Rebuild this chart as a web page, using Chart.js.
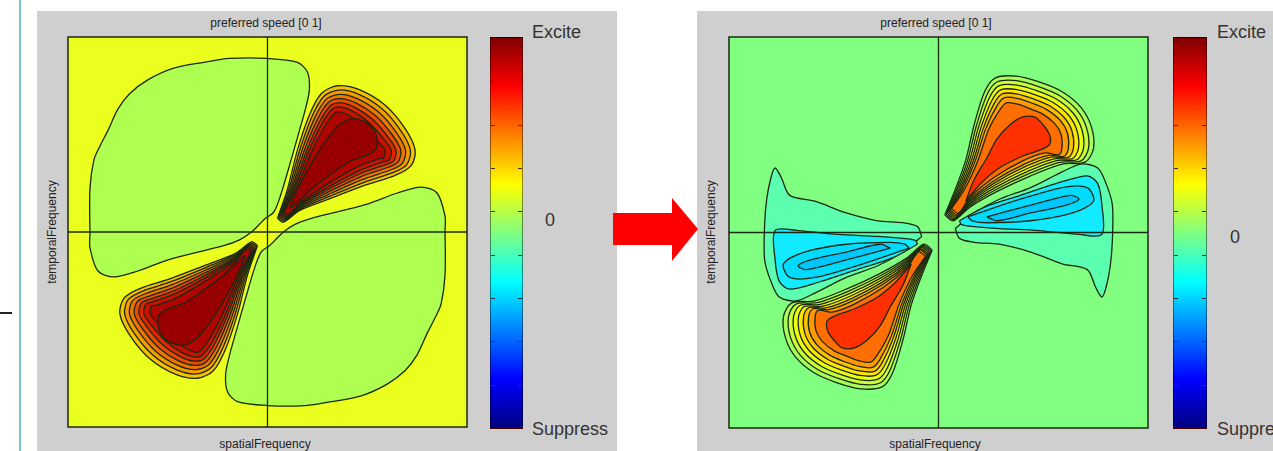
<!DOCTYPE html>
<html><head><meta charset="utf-8">
<script src="https://cdn.jsdelivr.net/npm/chart.js@4.4.1/dist/chart.umd.min.js"></script>
<style>
html,body{margin:0;padding:0;background:#fff;width:1273px;height:451px;overflow:hidden;position:relative;font-family:"Liberation Sans",Arial,sans-serif;}
.panel{position:absolute;background:#cfcfcf;top:11px;height:440px}
.small{position:absolute;font-size:12px;color:#222;white-space:nowrap;transform:translate(-50%,-50%)}
.rot{transform:translate(-50%,-50%) rotate(-90deg)}
.big{position:absolute;font-size:18px;color:#333;white-space:nowrap;transform:translateY(-50%)}
.cbar{position:absolute;top:37px;height:392px;box-sizing:border-box;border:1px solid rgba(0,0,0,.45);
 background:linear-gradient(to top,#000080 0%,#0000ff 12.5%,#0080ff 25%,#00ffff 37.5%,#80ff80 50%,#ffff00 62.5%,#ff8000 75%,#ff0000 87.5%,#800000 100%)}
.tick{position:absolute;height:1px;width:4px;background:#333}
canvas{position:absolute}
</style></head>
<body>
<div style="position:absolute;left:19px;top:0;width:2px;height:451px;background:#7cc4cc"></div>
<div style="position:absolute;left:0;top:312px;width:12px;height:1.5px;background:#222"></div>
<div class="panel" style="left:37px;width:580px"></div>
<div class="panel" style="left:697px;width:576px"></div>
<svg style="position:absolute;left:0;top:0" width="1273" height="451">
 <polygon points="613,213 672,213 672,198 698,229 672,261 672,245 613,245" fill="#ff0000"/>
</svg>
<canvas id="cL" width="409" height="400" style="left:63px;top:32px"></canvas>
<canvas id="cR" width="429" height="401" style="left:724px;top:32px"></canvas>
<div class="cbar" id="cb1" style="left:490px;width:33px"></div>
<div class="cbar" id="cb2" style="left:1173px;width:34px"></div>

<div class="small" style="left:266px;top:23px">preferred speed [0 1]</div>
<div class="small" style="left:936px;top:23px">preferred speed [0 1]</div>
<div class="small" style="left:265px;top:444px">spatialFrequency</div>
<div class="small" style="left:935px;top:444px">spatialFrequency</div>
<div class="small rot" style="left:52px;top:232px">temporalFrequency</div>
<div class="small rot" style="left:711px;top:232px">temporalFrequency</div>
<div class="big" style="left:532px;top:32px">Excite</div>
<div class="big" style="left:545px;top:220px">0</div>
<div class="big" style="left:532px;top:429px">Suppress</div>
<div class="big" style="left:1217px;top:32px">Excite</div>
<div class="big" style="left:1230px;top:237px">0</div>
<div class="big" style="left:1217px;top:429px">Suppress</div>

<script>
// ---------- LEFT PANEL ----------
const leftGreenUL = [[-89,-1],[-89,22],[-87,37],[-84,44],[-80,52],[-75,63],[-69,71],[-60,78],[-47,84],[-32,87],[-19,89],[0,89],[15,87],[20,82],[21,73],[19,63],[16,52],[11,34],[6,17],[3,10],[-1,7],[-4,4],[-8,0],[-14,-4],[-22,-7],[-49,-14],[-65,-20],[-77,-23],[-85,-20],[-89,-8]];
const leftGreenLR = [[89,1],[89,-22],[87,-37],[84,-44],[80,-52],[75,-63],[69,-71],[60,-78],[47,-84],[32,-87],[19,-89],[0,-89],[-15,-87],[-20,-82],[-21,-73],[-19,-63],[-16,-52],[-11,-34],[-6,-17],[-3,-10],[1,-7],[4,-4],[8,0],[14,4],[22,7],[49,14],[65,20],[77,23],[85,20],[89,8]];
const leftLobeA = [
 [[5,7],[10,22],[15,42],[21,60],[27,71],[35,75],[46,73],[59,65],[69,53],[74,42],[72,34],[64,29],[49,24],[31,17],[16,11],[8,5]],
 [[5.5,7.5],[10.7,22],[16.1,41.8],[22.3,59.2],[28.2,69.5],[35.5,72.8],[45.5,70.7],[57.4,63.2],[66.8,52],[71.6,42],[69.8,34.6],[62.8,30.4],[48.4,25.5],[30.7,18.1],[16,11.6],[8.4,5.6]],
 [[6,8],[11.4,22],[17.2,41.6],[23.6,58.4],[29.4,68],[36,70.6],[45,68.4],[55.8,61.4],[64.6,51],[69.2,42],[67.6,35.2],[61.6,31.8],[47.8,27],[30.4,19.2],[16,12.2],[8.8,6.2]],
 [[6.5,8.5],[12.1,22],[18.3,41.4],[24.9,57.6],[30.6,66.5],[36.5,68.4],[44.5,66.1],[54.2,59.6],[62.4,50],[66.8,42],[65.4,35.8],[60.4,33.2],[47.2,28.5],[30.1,20.3],[16,12.8],[9.2,6.8]],
 [[7,9],[12.8,22],[19.4,41.2],[26.2,56.8],[31.8,65],[37,66.2],[44,63.8],[52.6,57.8],[60.2,49],[64.4,42],[63.2,36.4],[59.2,34.6],[46.6,30],[29.8,21.4],[16,13.4],[9.6,7.4]],
 [[7.5,9.5],[13.5,22],[20.5,41],[27.5,56],[33,63.5],[37.5,64],[43.5,61.5],[51,56],[58,48],[62,42],[61,37],[58,36],[46,31.5],[29.5,22.5],[16,14],[10,8]],
 [[8.2,10.2],[14.4,22],[21.9,40.7],[29.2,55],[34.6,61.6],[38.2,61.1],[42.9,58.5],[48.9,53.7],[55.1,46.7],[58.9,42],[58.1,37.8],[56.4,37.8],[45.2,33.5],[29.1,23.9],[16,14.8],[10.5,8.8]],
 [[11,12],[16,24],[23,37],[30,48],[36,55],[42,58],[48,57],[53,53],[55,47],[54,42],[49,39],[41,36],[31,29],[22,22],[15,15]]
];
const leftLobeB = [
 [[-5,-7],[-10,-22],[-15,-42],[-21,-60],[-27,-71],[-35,-75],[-46,-73],[-59,-65],[-69,-53],[-74,-42],[-72,-34],[-64,-29],[-49,-24],[-31,-17],[-16,-11],[-8,-5]],
 [[-5.5,-7.5],[-10.7,-22],[-16.1,-41.8],[-22.3,-59.2],[-28.2,-69.5],[-35.5,-72.8],[-45.5,-70.7],[-57.4,-63.2],[-66.8,-52],[-71.6,-42],[-69.8,-34.6],[-62.8,-30.4],[-48.4,-25.5],[-30.7,-18.1],[-16,-11.6],[-8.4,-5.6]],
 [[-6,-8],[-11.4,-22],[-17.2,-41.6],[-23.6,-58.4],[-29.4,-68],[-36,-70.6],[-45,-68.4],[-55.8,-61.4],[-64.6,-51],[-69.2,-42],[-67.6,-35.2],[-61.6,-31.8],[-47.8,-27],[-30.4,-19.2],[-16,-12.2],[-8.8,-6.2]],
 [[-6.5,-8.5],[-12.1,-22],[-18.3,-41.4],[-24.9,-57.6],[-30.6,-66.5],[-36.5,-68.4],[-44.5,-66.1],[-54.2,-59.6],[-62.4,-50],[-66.8,-42],[-65.4,-35.8],[-60.4,-33.2],[-47.2,-28.5],[-30.1,-20.3],[-16,-12.8],[-9.2,-6.8]],
 [[-7,-9],[-12.8,-22],[-19.4,-41.2],[-26.2,-56.8],[-31.8,-65],[-37,-66.2],[-44,-63.8],[-52.6,-57.8],[-60.2,-49],[-64.4,-42],[-63.2,-36.4],[-59.2,-34.6],[-46.6,-30],[-29.8,-21.4],[-16,-13.4],[-9.6,-7.4]],
 [[-7.5,-9.5],[-13.5,-22],[-20.5,-41],[-27.5,-56],[-33,-63.5],[-37.5,-64],[-43.5,-61.5],[-51,-56],[-58,-48],[-62,-42],[-61,-37],[-58,-36],[-46,-31.5],[-29.5,-22.5],[-16,-14],[-10,-8]],
 [[-8.2,-10.2],[-14.4,-22],[-21.9,-40.7],[-29.2,-55],[-34.6,-61.6],[-38.2,-61.1],[-42.9,-58.5],[-48.9,-53.7],[-55.1,-46.7],[-58.9,-42],[-58.1,-37.8],[-56.4,-37.8],[-45.2,-33.5],[-29.1,-23.9],[-16,-14.8],[-10.5,-8.8]],
 [[-11,-12],[-16,-24],[-23,-37],[-30,-48],[-36,-55],[-42,-58],[-48,-57],[-53,-53],[-55,-47],[-54,-42],[-49,-39],[-41,-36],[-31,-29],[-22,-22],[-15,-15]]
];
const leftLevelColors = ['#f5c000','#f39c00','#ee7600','#e84c00','#dc2600','#c81000','#b00400','#980000'];

// ---------- RIGHT PANEL ----------
const rightRedA = [
 [[3,9],[8,22],[13,37],[17,55],[22,72],[27,79],[37,80],[48,77],[59,72],[68,64],[73,54],[74,43],[70,36],[59,35],[44,29],[28,21],[15,13],[7,6]],
 [[3.5,9.5],[8.7,22],[13.9,36.9],[18.1,54.6],[23.2,70.6],[27.9,77],[37.2,77.7],[47.4,74.8],[57.5,70.2],[66,62.7],[70.7,53.4],[71.6,43],[68,36.6],[57.7,35.9],[43.4,30.2],[27.7,22.1],[15,13.8],[7.4,6.6]],
 [[4,10],[9.4,22],[14.8,36.8],[19.2,54.2],[24.4,69.2],[28.8,75],[37.4,75.4],[46.8,72.6],[56,68.4],[64,61.4],[68.4,52.8],[69.2,43],[66,37.2],[56.4,36.8],[42.8,31.4],[27.4,23.2],[15,14.6],[7.8,7.2]],
 [[4.5,10.5],[10.1,22],[15.7,36.7],[20.3,53.8],[25.6,67.8],[29.7,73],[37.6,73.1],[46.2,70.4],[54.5,66.6],[62,60.1],[66.1,52.2],[66.8,43],[64,37.8],[55.1,37.7],[42.2,32.6],[27.1,24.3],[15,15.4],[8.2,7.8]],
 [[5,11],[10.8,22],[16.6,36.6],[21.4,53.4],[26.8,66.4],[30.6,71],[37.8,70.8],[45.6,68.2],[53,64.8],[60,58.8],[63.8,51.6],[64.4,43],[62,38.4],[53.8,38.6],[41.6,33.8],[26.8,25.4],[15,16.2],[8.6,8.4]],
 [[5.5,11.5],[11.5,22],[17.5,36.5],[22.5,53],[28,65],[31.5,69],[38,68.5],[45,66],[51.5,63],[58,57.5],[61.5,51],[62,43],[60,39],[52.5,39.5],[41,35],[26.5,26.5],[15,17],[9,9]],
 [[6.2,12.2],[12.4,22],[18.7,36.4],[23.9,52.5],[29.6,63.2],[32.7,66.4],[38.3,65.5],[44.2,63.1],[49.6,60.7],[55.4,55.8],[58.5,50.2],[58.9,43],[57.4,39.8],[50.8,40.7],[40.2,36.6],[26.1,27.9],[15,18],[9.5,9.8]],
 [[13,16],[17,27],[23,38],[28,48],[34,55],[40,59],[46,59],[50,55],[53,50],[53,45],[48,42],[40,39],[29,33],[21,26],[16,20]]
];
const rightRedB = [
 [[-3,-9],[-8,-22],[-13,-37],[-17,-55],[-22,-72],[-27,-79],[-37,-80],[-48,-77],[-59,-72],[-68,-64],[-73,-54],[-74,-43],[-70,-36],[-59,-35],[-44,-29],[-28,-21],[-15,-13],[-7,-6]],
 [[-3.5,-9.5],[-8.7,-22],[-13.9,-36.9],[-18.1,-54.6],[-23.2,-70.6],[-27.9,-77],[-37.2,-77.7],[-47.4,-74.8],[-57.5,-70.2],[-66,-62.7],[-70.7,-53.4],[-71.6,-43],[-68,-36.6],[-57.7,-35.9],[-43.4,-30.2],[-27.7,-22.1],[-15,-13.8],[-7.4,-6.6]],
 [[-4,-10],[-9.4,-22],[-14.8,-36.8],[-19.2,-54.2],[-24.4,-69.2],[-28.8,-75],[-37.4,-75.4],[-46.8,-72.6],[-56,-68.4],[-64,-61.4],[-68.4,-52.8],[-69.2,-43],[-66,-37.2],[-56.4,-36.8],[-42.8,-31.4],[-27.4,-23.2],[-15,-14.6],[-7.8,-7.2]],
 [[-4.5,-10.5],[-10.1,-22],[-15.7,-36.7],[-20.3,-53.8],[-25.6,-67.8],[-29.7,-73],[-37.6,-73.1],[-46.2,-70.4],[-54.5,-66.6],[-62,-60.1],[-66.1,-52.2],[-66.8,-43],[-64,-37.8],[-55.1,-37.7],[-42.2,-32.6],[-27.1,-24.3],[-15,-15.4],[-8.2,-7.8]],
 [[-5,-11],[-10.8,-22],[-16.6,-36.6],[-21.4,-53.4],[-26.8,-66.4],[-30.6,-71],[-37.8,-70.8],[-45.6,-68.2],[-53,-64.8],[-60,-58.8],[-63.8,-51.6],[-64.4,-43],[-62,-38.4],[-53.8,-38.6],[-41.6,-33.8],[-26.8,-25.4],[-15,-16.2],[-8.6,-8.4]],
 [[-5.5,-11.5],[-11.5,-22],[-17.5,-36.5],[-22.5,-53],[-28,-65],[-31.5,-69],[-38,-68.5],[-45,-66],[-51.5,-63],[-58,-57.5],[-61.5,-51],[-62,-43],[-60,-39],[-52.5,-39.5],[-41,-35],[-26.5,-26.5],[-15,-17],[-9,-9]],
 [[-6.2,-12.2],[-12.4,-22],[-18.7,-36.4],[-23.9,-52.5],[-29.6,-63.2],[-32.7,-66.4],[-38.3,-65.5],[-44.2,-63.1],[-49.6,-60.7],[-55.4,-55.8],[-58.5,-50.2],[-58.9,-43],[-57.4,-39.8],[-50.8,-40.7],[-40.2,-36.6],[-26.1,-27.9],[-15,-18],[-9.5,-9.8]],
 [[-13,-16],[-17,-27],[-23,-38],[-28,-48],[-34,-55],[-40,-59],[-46,-59],[-50,-55],[-53,-50],[-53,-45],[-48,-42],[-40,-39],[-29,-33],[-21,-26],[-16,-20]]
];
const rightRedColors = ['#a6ff58','#c8ff38','#eaff14','#ffe600','#ffc000','#ff9a00','#ff6e00','#ff3000'];
const rightBlueA = [
 [[8,2],[17,10],[29,17],[44,23],[59,31],[68,35],[76,33],[80,25],[83,14],[83,-4],[82,-17],[80,-28],[78,-33],[75,-28],[71,-19],[59,-16],[44,-10],[29,-6],[17,-5],[10,-3]],
 [[10,6],[22,13],[39,19],[56,25],[71,29],[76,25],[78,14],[78,-1],[67,-1],[48,1],[29,2],[17,3],[11,4]],
 [[14,8],[36,16],[59,23],[71,23],[74,16],[64,10],[44,6],[23,5],[16,6]],
 [[23,8],[44,14],[63,19],[67,17],[61,14],[44,10],[28,6]]
];
const rightBlueB = [
 [[-8,-2],[-17,-10],[-29,-17],[-44,-23],[-59,-31],[-68,-35],[-76,-33],[-80,-25],[-83,-14],[-83,4],[-82,17],[-80,28],[-78,33],[-75,28],[-71,19],[-59,16],[-44,10],[-29,6],[-17,5],[-10,3]],
 [[-10,-6],[-22,-13],[-39,-19],[-56,-25],[-71,-29],[-76,-25],[-78,-14],[-78,1],[-67,1],[-48,-1],[-29,-2],[-17,-3],[-11,-4]],
 [[-14,-8],[-36,-16],[-59,-23],[-71,-23],[-74,-16],[-64,-10],[-44,-6],[-23,-5],[-16,-6]],
 [[-23,-8],[-44,-14],[-63,-19],[-67,-17],[-61,-14],[-44,-10],[-28,-6]]
];
const rightBlueColors = ['#5cffb0','#12eaff','#00daff','#00c6ff'];
const axisRange = [-100, 100];

const LINE = '#1b2812';
function polygon(pts, color){
  const d = pts.map(p=>({x:p[0],y:p[1]}));
  d.push({x:pts[0][0],y:pts[0][1]});
  return {data:d, fill:'shape', backgroundColor:color, borderColor:LINE, borderWidth:1.3,
          pointRadius:0, tension:0.3};
}
function crossLines(){
  return [
    {data:[{x:axisRange[0],y:0},{x:axisRange[1],y:0}], fill:false, borderColor:LINE, borderWidth:1.3, pointRadius:0, tension:0},
    {data:[{x:0,y:axisRange[0]},{x:0,y:axisRange[1]}], fill:false, borderColor:LINE, borderWidth:1.3, pointRadius:0, tension:0}
  ];
}
const plotFrame = {
  id:'plotFrame',
  beforeDraw(chart, args, opts){
    const a = chart.chartArea, ctx = chart.ctx;
    ctx.save(); ctx.fillStyle = opts.color; ctx.fillRect(a.left, a.top, a.right-a.left, a.bottom-a.top); ctx.restore();
  },
  afterDraw(chart){
    const a = chart.chartArea, ctx = chart.ctx;
    ctx.save(); ctx.strokeStyle = LINE; ctx.lineWidth = 1.5;
    ctx.strokeRect(a.left, a.top, a.right-a.left, a.bottom-a.top); ctx.restore();
  }
};
function makeChart(id, layers, bg){
  const ds = layers.concat(crossLines());
  const n = ds.length;
  ds.forEach((d,i)=>{ d.order = n - i; });
  new Chart(document.getElementById(id), {
    type:'line',
    data:{datasets:ds},
    options:{
      responsive:false, animation:false, devicePixelRatio:1, events:[],
      layout:{padding:5},
      scales:{
        x:{type:'linear', min:axisRange[0], max:axisRange[1], display:false},
        y:{type:'linear', min:axisRange[0], max:axisRange[1], display:false}
      },
      plugins:{legend:{display:false}, tooltip:{enabled:false}, plotFrame:{color:bg}}
    },
    plugins:[plotFrame]
  });
}

const leftLayers = [polygon(leftGreenUL,'#aeff50'), polygon(leftGreenLR,'#aeff50')];
leftLobeA.forEach((c,i)=>leftLayers.push(polygon(c,leftLevelColors[i])));
leftLobeB.forEach((c,i)=>leftLayers.push(polygon(c,leftLevelColors[i])));
makeChart('cL', leftLayers, '#eaff1e');

const rightLayers = [];
rightBlueA.forEach((c,i)=>rightLayers.push(polygon(c,rightBlueColors[i])));
rightBlueB.forEach((c,i)=>rightLayers.push(polygon(c,rightBlueColors[i])));
rightRedA.forEach((c,i)=>rightLayers.push(polygon(c,rightRedColors[i])));
rightRedB.forEach((c,i)=>rightLayers.push(polygon(c,rightRedColors[i])));
makeChart('cR', rightLayers, '#80ff80');

['cb1','cb2'].forEach(id=>{
  const el = document.getElementById(id);
  for(let i=1;i<=8;i++){
    const y = Math.round(i*390/9);
    const t1 = document.createElement('div'); t1.className='tick'; t1.style.left='0px'; t1.style.top=y+'px';
    const t2 = document.createElement('div'); t2.className='tick'; t2.style.right='0px'; t2.style.top=y+'px';
    el.appendChild(t1); el.appendChild(t2);
  }
});
</script>
</body></html>
